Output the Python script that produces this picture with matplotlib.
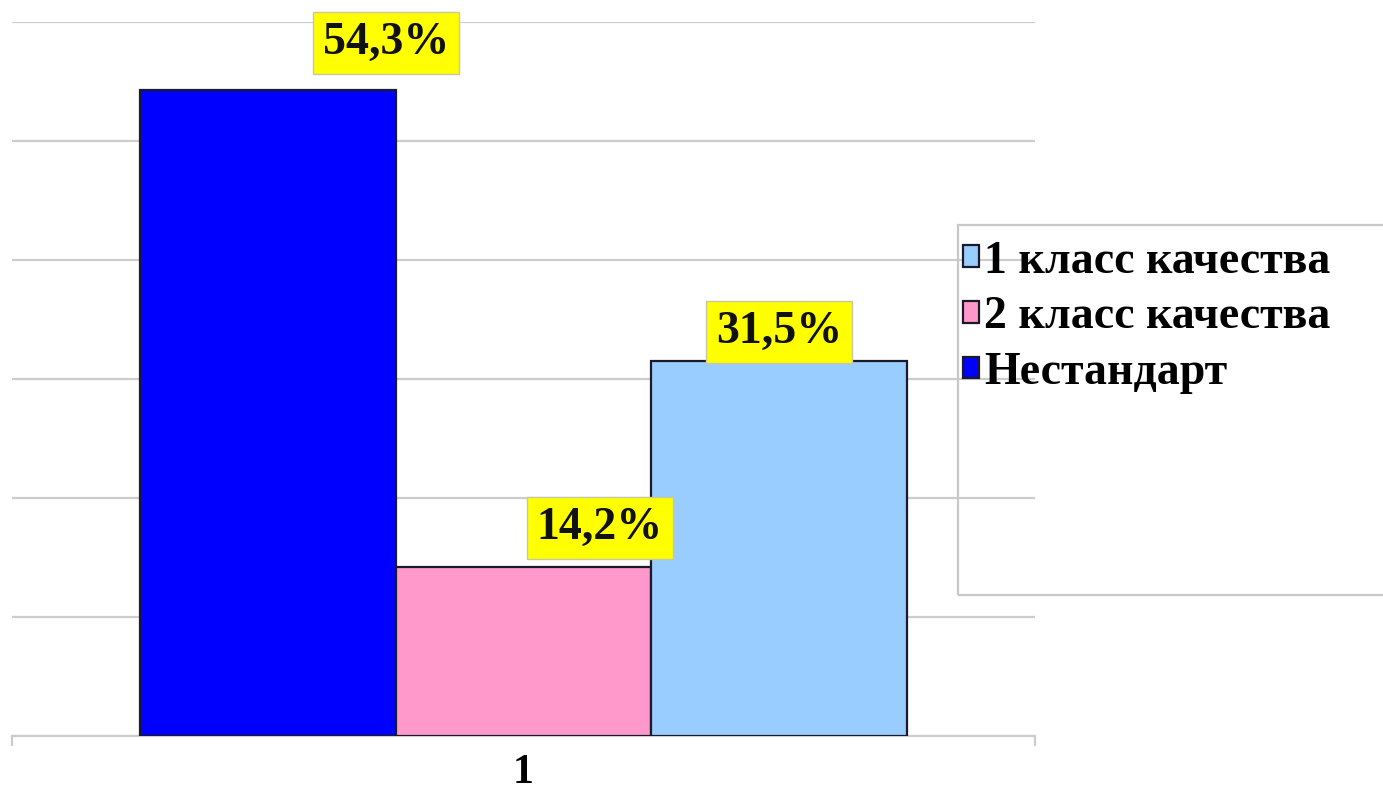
import matplotlib
matplotlib.use("Agg")
import matplotlib.pyplot as plt
from matplotlib.patches import Rectangle

# Data
series = ["Нестандарт", "2 класс качества", "1 класс качества"]
values = [54.3, 14.2, 31.5]
labels = ["54,3%", "14,2%", "31,5%"]
category = ["1"]

# Styles
colors = ["#0000FF", "#FF99CC", "#99CCFF"]
label_offsets = [(85, 34), (55, 28), (0, 21)]  # points, box centre from bar top

plt.rcParams["font.family"] = ["Liberation Serif", "DejaVu Serif"]
plt.rcParams["font.weight"] = "bold"

fig = plt.figure(figsize=(13.83, 7.94), dpi=100)
ax = fig.add_axes([12 / 1383, 1 - 736 / 794, 1023 / 1383, 714 / 794])

xs = [-1, 0, 1]
bars = []
for x, v, c, name in zip(xs, values, colors, series):
    b = ax.bar(x, v, width=1.0, color=c, edgecolor="#1a1a2a", linewidth=1.6,
               label=name, zorder=3)
    bars.append(b)

for x, v, lab, off in zip(xs, values, labels, label_offsets):
    ax.annotate(lab, xy=(x, v), xytext=off, textcoords="offset points",
                ha="center", va="center", fontsize=33, fontweight="bold",
                color="#111111", zorder=5,
                bbox=dict(boxstyle="square,pad=0.22", fc="#FFFF00",
                          ec="#c8c8a0", lw=1))

ax.set_xlim(-2, 2)
ax.set_ylim(0, 60)
ax.set_yticks(range(0, 61, 10))
ax.yaxis.grid(True, color="#cccccc", linewidth=1.6, zorder=0)
ax.tick_params(axis="y", left=False, labelleft=False)
ax.set_xticks([0])
ax.set_xticklabels(category, fontsize=30, fontweight="bold")
ax.set_xticks([-2, 2], minor=True)
ax.tick_params(axis="x", which="major", length=0, pad=13)
ax.tick_params(axis="x", which="minor", length=7, width=1.6, color="#cccccc")
for s in ["left", "right", "top"]:
    ax.spines[s].set_visible(False)
ax.spines["bottom"].set_color("#cccccc")
ax.spines["bottom"].set_linewidth(1.6)

# legend frame (extends past the right edge)
fig.patches.append(Rectangle((958 / 1383, 1 - 595 / 794), 0.4, 370 / 794,
                             transform=fig.transFigure, fill=False,
                             ec="#c8c8c8", lw=1.6, zorder=0))
handles = [bars[2], bars[1], bars[0]]
fig.legend(handles, [series[2], series[1], series[0]],
           loc="upper left", bbox_to_anchor=(958 / 1383, 1 - 236 / 794),
           frameon=False, handlelength=0.35, handleheight=0.35,
           handletextpad=0.12, labelspacing=0.3, borderaxespad=0,
           borderpad=0.1,
           prop={"weight": "bold", "size": 33})

fig.savefig("out.png", dpi=100)
